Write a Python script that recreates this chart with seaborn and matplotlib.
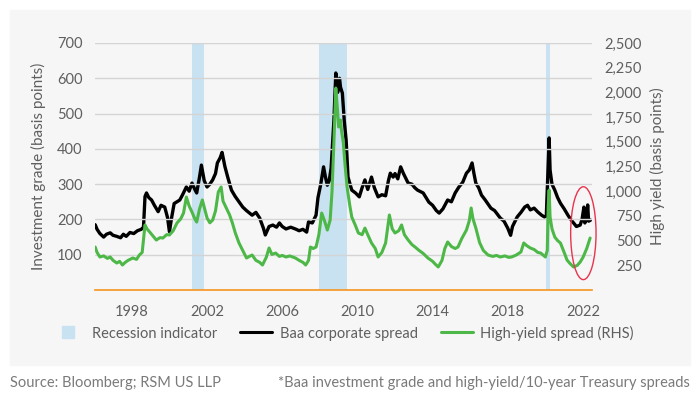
import matplotlib
matplotlib.use("Agg")
import matplotlib.pyplot as plt
import seaborn as sns
from matplotlib.lines import Line2D
from matplotlib.patches import Ellipse, Rectangle
from matplotlib.ticker import FuncFormatter

# Baa corporate spread (left axis, basis points)
baa_years = [
    1996.05, 1996.15, 1996.3, 1996.5, 1996.65, 1996.85, 1997.0, 1997.2, 1997.4, 1997.55,
    1997.7, 1997.9, 1998.1, 1998.3, 1998.5, 1998.62, 1998.7, 1998.78, 1998.9, 1999.05,
    1999.2, 1999.4, 1999.55, 1999.75, 1999.9, 2000.0, 2000.1, 2000.25, 2000.4, 2000.55,
    2000.7, 2000.9, 2001.05, 2001.2, 2001.35, 2001.45, 2001.6, 2001.7, 2001.85, 2002.0,
    2002.15, 2002.3, 2002.45, 2002.55, 2002.7, 2002.8, 2002.95, 2003.1, 2003.3, 2003.5,
    2003.7, 2003.9, 2004.1, 2004.4, 2004.6, 2004.8, 2005.0, 2005.1, 2005.3, 2005.5,
    2005.7, 2005.85, 2006.0, 2006.2, 2006.45, 2006.7, 2006.9, 2007.1, 2007.3, 2007.4,
    2007.6, 2007.8, 2007.9, 2008.05, 2008.2, 2008.3, 2008.4, 2008.5, 2008.6, 2008.75,
    2008.85, 2008.95, 2009.05, 2009.1, 2009.2, 2009.3, 2009.4, 2009.5, 2009.7, 2009.9,
    2010.1, 2010.25, 2010.4, 2010.55, 2010.75, 2010.9, 2011.1, 2011.3, 2011.5, 2011.65,
    2011.75, 2011.9, 2012.0, 2012.15, 2012.3, 2012.45, 2012.7, 2012.9, 2013.05, 2013.2,
    2013.5, 2013.8, 2014.0, 2014.2, 2014.35, 2014.55, 2014.8, 2015.0, 2015.2, 2015.4,
    2015.6, 2015.8, 2015.95, 2016.1, 2016.2, 2016.3, 2016.45, 2016.6, 2016.8, 2017.1,
    2017.3, 2017.6, 2017.8, 2018.0, 2018.15, 2018.25, 2018.5, 2018.7, 2018.9, 2019.05,
    2019.2, 2019.4, 2019.6, 2019.8, 2019.95, 2020.05, 2020.15, 2020.2, 2020.25, 2020.35,
    2020.5, 2020.65, 2020.8, 2021.0, 2021.2, 2021.35, 2021.5, 2021.65, 2021.85, 2021.95,
    2022.05, 2022.1, 2022.2, 2022.25, 2022.3, 2022.4,
]
baa_values = [
    185, 172, 160, 150, 158, 162, 155, 152, 148, 158,
    152, 163, 160, 168, 172, 178, 265, 275, 262, 255,
    240, 222, 240, 235, 205, 165, 200, 245, 250, 255,
    270, 292, 280, 303, 285, 275, 320, 354, 310, 292,
    300, 312, 330, 360, 375, 390, 350, 320, 283, 265,
    250, 235, 225, 212, 220, 204, 175, 156, 180, 184,
    178, 190, 180, 173, 178, 173, 168, 172, 164, 193,
    190, 212, 261, 300, 349, 320, 297, 310, 345, 480,
    615, 560, 600, 575, 558, 480, 425, 320, 283, 275,
    264, 290, 312, 285, 320, 290, 264, 270, 267, 310,
    331, 320, 330, 315, 349, 330, 303, 300, 290, 283,
    275, 249, 240, 225, 218, 230, 255, 250, 275, 292,
    305, 331, 340, 360, 330, 303, 290, 269, 255, 232,
    225, 204, 195, 175, 155, 180, 207, 220, 235, 240,
    227, 232, 221, 212, 207, 210, 360, 431, 340, 300,
    283, 262, 246, 230, 212, 200, 190, 180, 184, 200,
    235, 190, 205, 241, 195, 198,
]

# High-yield spread (right axis, basis points)
hy_years = [
    1996.05, 1996.15, 1996.3, 1996.5, 1996.7, 1996.85, 1997.0, 1997.2, 1997.35, 1997.5,
    1997.65, 1997.8, 1998.05, 1998.25, 1998.4, 1998.55, 1998.7, 1998.8, 1998.95, 1999.15,
    1999.3, 1999.5, 1999.65, 1999.85, 2000.0, 2000.2, 2000.4, 2000.6, 2000.75, 2000.9,
    2001.05, 2001.2, 2001.35, 2001.45, 2001.6, 2001.75, 2001.9, 2002.0, 2002.15, 2002.3,
    2002.45, 2002.6, 2002.75, 2002.85, 2003.0, 2003.2, 2003.35, 2003.5, 2003.7, 2003.9,
    2004.1, 2004.25, 2004.4, 2004.6, 2004.8, 2004.95, 2005.15, 2005.3, 2005.45, 2005.65,
    2005.85, 2006.0, 2006.2, 2006.4, 2006.7, 2006.9, 2007.1, 2007.25, 2007.4, 2007.5,
    2007.65, 2007.8, 2007.95, 2008.1, 2008.25, 2008.4, 2008.55, 2008.65, 2008.75, 2008.85,
    2008.95, 2009.0, 2009.1, 2009.15, 2009.25, 2009.35, 2009.45, 2009.6, 2009.7, 2009.9,
    2010.05, 2010.25, 2010.4, 2010.55, 2010.75, 2010.95, 2011.1, 2011.3, 2011.5, 2011.6,
    2011.7, 2011.85, 2012.0, 2012.2, 2012.35, 2012.5, 2012.7, 2012.9, 2013.1, 2013.25,
    2013.5, 2013.75, 2014.0, 2014.15, 2014.3, 2014.5, 2014.65, 2014.8, 2015.0, 2015.2,
    2015.35, 2015.55, 2015.8, 2015.95, 2016.05, 2016.15, 2016.3, 2016.5, 2016.7, 2016.95,
    2017.2, 2017.4, 2017.6, 2017.85, 2018.05, 2018.2, 2018.45, 2018.7, 2018.85, 2019.0,
    2019.2, 2019.4, 2019.6, 2019.75, 2019.9, 2020.0, 2020.1, 2020.15, 2020.2, 2020.25,
    2020.35, 2020.5, 2020.65, 2020.8, 2021.0, 2021.15, 2021.3, 2021.5, 2021.7, 2021.85,
    2022.0, 2022.1, 2022.2, 2022.3, 2022.38,
]
hy_values = [
    435, 380, 334, 345, 320, 334, 300, 273, 290, 253,
    280, 300, 324, 310, 354, 380, 658, 620, 587, 540,
    506, 530, 526, 560, 557, 600, 678, 720, 779, 941,
    850, 789, 720, 688, 820, 911, 800, 729, 680, 708,
    800, 992, 1042, 900, 840, 760, 678, 580, 476, 400,
    324, 340, 354, 300, 280, 253, 330, 425, 360, 374,
    340, 350, 334, 345, 324, 300, 280, 253, 300, 435,
    420, 435, 560, 779, 700, 607, 708, 1000, 1500, 2044,
    1800, 1650, 1720, 1619, 1490, 1250, 1042, 850, 739, 650,
    577, 560, 627, 560, 476, 420, 334, 380, 476, 620,
    759, 620, 577, 600, 658, 560, 506, 460, 430, 405,
    370, 324, 290, 260, 233, 300, 420, 486, 440, 420,
    435, 520, 607, 700, 830, 720, 627, 480, 400, 354,
    340, 350, 334, 345, 330, 334, 354, 385, 476, 450,
    425, 410, 380, 374, 350, 334, 400, 850, 1012, 739,
    620, 536, 500, 476, 380, 304, 270, 233, 250, 283,
    330, 374, 420, 480, 526,
]

recessions = [(2001.2, 2001.85), (2007.95, 2009.45), (2020.02, 2020.25)]
x_ticks = [1998, 2002, 2006, 2010, 2014, 2018, 2022]
left_ticks = [100, 200, 300, 400, 500, 600, 700]
right_ticks = [250, 500, 750, 1000, 1250, 1500, 1750, 2000, 2250, 2500]

sns.set_style("white")
plt.rcParams["font.family"] = ["Lato", "DejaVu Sans"]

text_gray = "#5f5f5f"
panel = "#f6f6f6"
blue = "#c8e2f1"
green = "#4db848"
orange = "#f7941d"

fig = plt.figure(figsize=(7, 3.99), dpi=100)
fig.patches.append(Rectangle((10 / 700, 1 - 365 / 399), 680 / 700, 355 / 399,
                             transform=fig.transFigure, color=panel, zorder=-1))

ax = fig.add_axes([95 / 700, 1 - 290 / 399, 497 / 700, 247 / 399])
ax.set_facecolor(panel)

# recession shading
for start, end in recessions:
    ax.axvspan(start, end, color=blue, lw=0, zorder=0.3)

sns.lineplot(x=baa_years, y=baa_values, ax=ax, color="black", lw=2.4, zorder=2)

ax.set_xlim(1996.04, 2022.48)
ax.set_ylim(0, 700)
ax.set_xticks(x_ticks)
ax.set_yticks(left_ticks)
ax.yaxis.grid(True, color="#d4d4d4", lw=1)
ax.set_axisbelow(False)
for s in ["top", "left", "right"]:
    ax.spines[s].set_visible(False)
ax.spines["bottom"].set_color(orange)
ax.spines["bottom"].set_linewidth(1.2)
ax.tick_params(axis="x", length=0, pad=11, labelsize=10.5, labelcolor=text_gray)
ax.tick_params(axis="y", length=0, pad=9, labelsize=10.5, labelcolor=text_gray)
ax.set_ylabel("Investment grade (basis points)", fontsize=11, color=text_gray, labelpad=8)

# high yield on the right axis
ax2 = ax.twinx()
sns.lineplot(x=hy_years, y=hy_values, ax=ax2, color=green, lw=2.2, zorder=2)
ax2.set_ylim(0, 2500)
ax2.set_yticks(right_ticks)
ax2.yaxis.set_major_formatter(FuncFormatter(lambda v, p: f"{int(v):,}"))
for s in ax2.spines.values():
    s.set_visible(False)
ax2.tick_params(axis="y", length=0, pad=36, labelsize=10.5, labelcolor=text_gray)
for lab in ax2.get_yticklabels():
    lab.set_horizontalalignment("right")
ax2.set_ylabel("High yield (basis points)", fontsize=11, color=text_gray, labelpad=6)

ax2.add_patch(Ellipse((2022.02, 575), 1.35, 940, fill=False,
                      edgecolor="#e8344e", lw=1.0, clip_on=False, zorder=5))

handles = [
    Line2D([], [], marker="s", linestyle="none", markersize=9, color=blue),
    Line2D([], [], color="black", lw=2.2),
    Line2D([], [], color=green, lw=2.2),
]
labels = ["Recession indicator", "Baa corporate spread", "High-yield spread (RHS)"]
fig.legend(handles, labels, loc="center", bbox_to_anchor=(0.49, 1 - 333 / 399),
           ncol=3, frameon=False, fontsize=10.5, labelcolor=text_gray,
           handlelength=2.2, handletextpad=0.5, columnspacing=1.6)

fig.text(10 / 700, 1 - 383 / 399, "Source: Bloomberg; RSM US LLP",
         fontsize=10.5, color="#7a7a7a", va="center", ha="left")
fig.text(690 / 700, 1 - 383 / 399,
         "*Baa investment grade and high-yield/10-year Treasury spreads",
         fontsize=10.5, color="#7a7a7a", va="center", ha="right")

fig.savefig("out.png", dpi=100)
